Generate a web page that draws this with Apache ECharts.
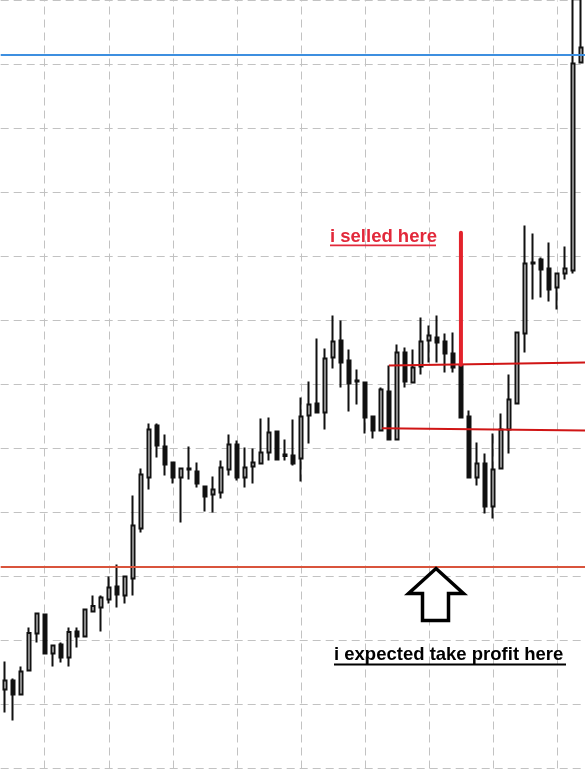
<!DOCTYPE html>
<html><head><meta charset="utf-8">
<script src="https://cdn.jsdelivr.net/npm/echarts@6/dist/echarts.min.js"></script>
<style>html,body{margin:0;padding:0;background:#fff}#c{width:585px;height:771px}</style>
</head><body><div id="c"></div><script>
// OHLC values (price units)
const opens = [12.34,13.75,11.56,15.31,21.09,24.06,17.97,19.38,17.34,21.41,
  20.63,24.53,25.16,26.41,28.44,27.03,29.69,37.5,45.47,53.59,
  50.31,47.81,45.47,46.88,46.41,44.06,42.81,43.13,46.72,50.63,
  45.47,47.19,47.66,49.38,52.66,49.06,48.91,48.44,55.16,57.03,
  55.63,64.22,66.88,63.75,60.63,60.31,55.0,52.81,58.91,51.41,
  65.0,60.31,62.81,66.88,67.34,66.72,64.84,62.97,55.0,45.47,
  47.66,40.94,46.88,52.97,57.03,67.97,79.06,79.53,78.13,75.16,
  77.34,77.81,110.31];
const closes = [13.75,11.56,15.16,21.17,24.22,17.97,19.22,17.34,21.33,20.63,
  24.84,25.39,26.72,28.28,27.19,30.0,37.97,45.94,52.97,50.47,
  47.5,45.47,46.88,46.72,44.53,42.5,43.59,47.03,50.63,45.47,
  47.03,47.81,49.38,52.5,48.28,48.83,47.66,55.0,56.88,55.63,
  64.06,66.72,63.44,60.16,60.47,54.84,52.81,59.22,51.41,65.0,
  60.47,62.66,66.72,67.66,66.56,64.84,62.66,54.84,45.47,47.66,
  40.94,46.72,52.97,57.66,68.13,78.91,78.91,77.97,74.84,77.34,
  78.13,110.16,112.66];
const lows = [8.75,7.5,11.56,15.31,19.69,17.97,15.94,16.56,15.94,18.91,
  20.63,24.38,21.41,25.78,25.16,25.78,27.03,36.88,43.59,48.59,
  45.78,44.53,38.44,45.16,43.91,40.16,40.0,42.19,45.78,45.0,
  43.91,44.53,47.66,48.13,48.28,48.13,47.34,44.84,50.78,55.63,
  52.97,62.5,59.53,55.78,56.88,52.34,51.56,52.81,51.41,51.41,
  59.53,60.16,61.56,63.44,63.44,61.88,61.88,54.84,45.47,44.22,
  39.84,39.06,46.88,49.22,57.03,65.0,73.28,73.59,72.97,71.72,
  76.41,77.34,110.16];
const highs = [16.72,14.06,15.94,22.03,24.38,24.06,19.22,19.69,22.03,22.03,
  24.84,27.03,27.03,30.0,31.88,30.0,42.66,46.88,53.91,53.91,
  52.19,47.81,46.88,50.31,47.81,44.06,45.63,48.13,52.19,51.25,
  50.16,50.0,54.69,54.84,52.66,51.41,54.53,57.97,60.47,67.19,
  65.63,70.78,70.0,65.47,62.34,60.31,55.0,59.53,62.97,66.25,
  65.78,65.47,70.47,69.22,70.78,67.97,68.13,62.97,55.94,50.94,
  49.22,52.34,55.47,61.56,68.13,84.84,83.59,79.84,82.19,77.34,
  81.56,124,124];
const categories = opens.map((_, i) => 'Bar ' + (i + 1));

// horizontal price levels
const takeProfitLevel = 31.56;
const blueLevel = 111.56;
// hand-drawn lines: [bar index, price]
const upperRedLine = [[48, 62.97], [72.5, 63.44]];
const lowerRedLine = [[47.15, 53.16], [72.5, 52.81]];
const sellStick = [[57, 63.1], [57, 83.7]];
// vertical grid columns (bar indexes)
const gridCols = [5, 13, 21, 29, 37, 45, 53, 61, 69];

const chart = echarts.init(document.getElementById('c'), null, {renderer: 'canvas'});
const candleData = opens.map((o, i) => [o, closes[i], lows[i], highs[i]]);
const dash = {type: [8, 5], color: '#c2c2c2', width: 1};
const font1 = 'bold 18.5px "Liberation Sans", Arial, sans-serif';

chart.setOption({
  animation: false,
  backgroundColor: '#ffffff',
  grid: {left: 0.7, right: 0, top: 0.5, bottom: 2.5},
  xAxis: [
    {type: 'category', data: categories, show: false, boundaryGap: true},
    {type: 'value', min: -0.5, max: 72.5, show: false}
  ],
  yAxis: {
    type: 'value', min: 0, max: 120, interval: 10,
    axisLine: {show: false}, axisTick: {show: false}, axisLabel: {show: false},
    splitLine: {show: true, lineStyle: dash}
  },
  series: [
    {
      type: 'candlestick', xAxisIndex: 0, yAxisIndex: 0, z: 2,
      data: candleData, barWidth: 3.4, clip: true,
      itemStyle: {
        color: '#ffffff', color0: '#111111',
        borderColor: '#111111', borderColor0: '#111111', borderColorDoji: '#111111',
        borderWidth: 2
      },
      markLine: {
        z: 1, silent: true, symbol: 'none', label: {show: false},
        lineStyle: dash, emphasis: {disabled: true},
        data: gridCols.map(c => ({xAxis: c}))
      }
    },
    {
      type: 'line', xAxisIndex: 1, yAxisIndex: 0, z: 5, data: upperRedLine,
      symbol: 'none', lineStyle: {color: '#d01515', width: 2},
      markLine: {
        z: 6, silent: true, symbol: 'none', label: {show: false},
        emphasis: {disabled: true},
        data: [
          {yAxis: takeProfitLevel, lineStyle: {color: '#d9543c', width: 2, type: 'solid'}},
          {yAxis: blueLevel, lineStyle: {color: '#3d8fe0', width: 2, type: 'solid'}}
        ]
      }
    },
    {
      type: 'line', xAxisIndex: 1, yAxisIndex: 0, z: 5, data: lowerRedLine,
      symbol: 'none', lineStyle: {color: '#d01515', width: 2}
    },
    {
      type: 'line', xAxisIndex: 1, yAxisIndex: 0, z: 6, data: sellStick,
      symbol: 'none', lineStyle: {color: '#e3222b', width: 4, cap: 'round'}
    }
  ],
  graphic: [
    {type: 'text', z: 10, style: {text: 'i selled here', x: 330, y: 237, font: font1, fill: '#e2283a', verticalAlign: 'middle'}},
    {type: 'line', z: 10, shape: {x1: 330, y1: 245.4, x2: 436, y2: 245.4}, style: {stroke: '#e2283a', lineWidth: 1.8}},
    {type: 'text', z: 10, style: {text: 'i expected take profit here', x: 334, y: 655, font: font1, fill: '#000000', verticalAlign: 'middle'}},
    {type: 'line', z: 10, shape: {x1: 334, y1: 664.5, x2: 566, y2: 664.5}, style: {stroke: '#000000', lineWidth: 1.8}},
    {type: 'polygon', z: 10, shape: {points: [[436, 568.5], [463.5, 593.5], [448.5, 593.5], [448.5, 620.5], [422.5, 620.5], [422.5, 593.5], [408.5, 593.5]]},
      style: {fill: '#ffffff', stroke: '#000000', lineWidth: 3.5, lineJoin: 'miter'}}
  ]
});
</script></body></html>
